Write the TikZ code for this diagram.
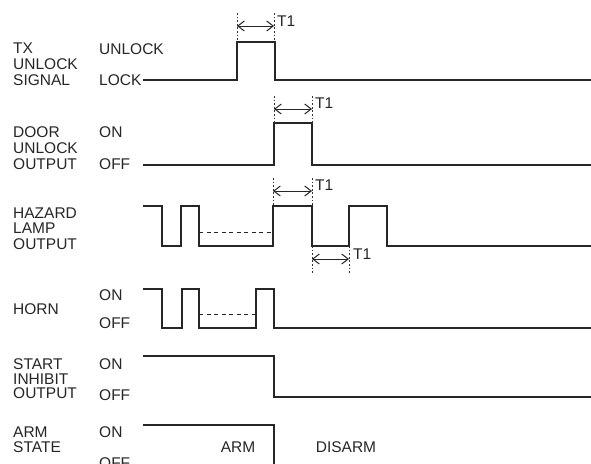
\documentclass[tikz,border=0pt]{standalone}
\usepackage{fontspec}
\setmainfont{Liberation Sans}
\usetikzlibrary{arrows.meta}
\begin{document}
\begin{tikzpicture}[x=1pt,y=-1pt,
  sig/.style={line width=1.2pt, draw=black!85, line join=miter},
  dsh/.style={line width=1pt, draw=black!85, dash pattern=on 4pt off 3.5pt},
  guide/.style={line width=0.9pt, draw=black!80, dash pattern=on 1.8pt off 1.8pt},
  dim/.style={line width=1pt, draw=black!85, {Straight Barb[length=6.5pt,width=10pt]}-{Straight Barb[length=6.5pt,width=10pt]}},
  lbl/.style={anchor=base west, inner sep=0pt, text=black!85, font=\fontsize{15.5}{16}\selectfont},
  mid/.style={anchor=base, inner sep=0pt, text=black!85, font=\fontsize{15.5}{16}\selectfont}]
\useasboundingbox (0,0) rectangle (591,463);

% ---- left labels
\node[lbl] (a1) at (13,53) {TX};
\node[lbl] (a2) at (13,69) {UNLOCK};
\node[lbl] (a3) at (13,85) {SIGNAL};
\node[lbl] (a4) at (99,54) {UNLOCK};
\node[lbl] (a5) at (99,85) {LOCK};

\node[lbl] (b1) at (13,137) {DOOR};
\node[lbl] (b2) at (13,153) {UNLOCK};
\node[lbl] (b3) at (13,169) {OUTPUT};
\node[lbl] (b4) at (99,137) {ON};
\node[lbl] (b5) at (99,169) {OFF};

\node[lbl] (c1) at (13,218) {HAZARD};
\node[lbl] (c2) at (13,233) {LAMP};
\node[lbl] (c3) at (13,249) {OUTPUT};

\node[lbl] (d1) at (13,314) {HORN};
\node[lbl] (d2) at (99,300) {ON};
\node[lbl] (d3) at (99,328) {OFF};

\node[lbl] (e1) at (13,369) {START};
\node[lbl] (e2) at (13,384) {INHIBIT};
\node[lbl] (e3) at (13,398) {OUTPUT};
\node[lbl] (e4) at (99,369) {ON};
\node[lbl] (e5) at (99,400) {OFF};

\node[lbl] (f1) at (13,437) {ARM};
\node[lbl] (f2) at (13,452) {STATE};
\node[lbl] (f3) at (99,437) {ON};
\node[lbl] (f4) at (99,468) {OFF};
\node[mid] (f5) at (238,452) {ARM};
\node[mid] (f6) at (346,452) {DISARM};

% ---- TX unlock signal
\draw[sig] (143,80) -- (237,80) -- (237,42) -- (275,42) -- (275,80) -- (591,80);
\draw[guide] (237,13) -- (237,42);
\draw[guide] (274,13) -- (274,42);
\draw[dim] (237,26) -- (274,26);
\node[lbl] (t1) at (277,26) {T1};

% ---- door unlock output
\draw[sig] (143,165) -- (274,165) -- (274,123) -- (312,123) -- (312,165) -- (591,165);
\draw[guide] (274,96) -- (274,123);
\draw[guide] (312,96) -- (312,123);
\draw[dim] (274,109) -- (312,109);
\node[lbl] (t2) at (315,108) {T1};

% ---- hazard lamp output
\draw[sig] (143,206) -- (162,206) -- (162,246) -- (181,246) -- (181,206) -- (199,206) -- (199,246)
  -- (273,246) -- (273,206) -- (312,206) -- (312,246) -- (349,246) -- (349,206) -- (387,206)
  -- (387,246) -- (591,246);
\draw[dsh] (199,232) -- (273,232);
\draw[guide] (273,178) -- (273,206);
\draw[guide] (312,178) -- (312,206);
\draw[dim] (273,191) -- (312,191);
\node[lbl] (t3) at (315,190) {T1};
\draw[guide] (312,246) -- (312,273);
\draw[guide] (349,246) -- (349,273);
\draw[dim] (312,259) -- (349,259);
\node[lbl] (t4) at (353,259) {T1};

% ---- horn
\draw[sig] (143,289) -- (162,289) -- (162,328) -- (182,328) -- (182,289) -- (199,289) -- (199,328)
  -- (256,328) -- (256,289) -- (274,289) -- (274,328) -- (591,328);
\draw[dsh] (199,314) -- (256,314);

% ---- start inhibit output
\draw[sig] (143,356) -- (274,356) -- (274,397) -- (591,397);

% ---- arm state
\draw[sig] (143,425) -- (274,425) -- (274,465);
\end{tikzpicture}
\end{document}
